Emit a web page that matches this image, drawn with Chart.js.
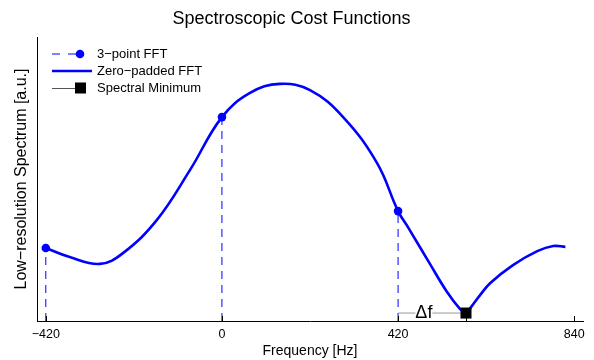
<!DOCTYPE html>
<html><head><meta charset="utf-8">
<script src="https://cdn.jsdelivr.net/npm/chart.js@4/dist/chart.umd.min.js"></script>
<style>html,body{margin:0;padding:0;background:#fff}#wrap{width:594px;height:360px}</style>
</head><body><div id="wrap"><canvas id="c" width="594" height="360"></canvas></div>
<script>
// ---- data ----
const fftFreq = [-420, 0, 420];
const fftValues = [0.257, 0.718, 0.387];
const zpFreq = [-420, -363, -291, -236, -155, -76, 0, 67, 138, 210, 289, 370, 420, 445, 496, 536, 568, 582, 594, 616, 640, 694, 752, 790, 819];
const zpValues = [0.257, 0.225, 0.201, 0.239, 0.356, 0.532, 0.718, 0.803, 0.835, 0.813, 0.718, 0.556, 0.387, 0.327, 0.201, 0.104, 0.042, 0.028, 0.049, 0.092, 0.134, 0.197, 0.246, 0.264, 0.261];
const minFreq = 582;
const minValue = 0.028;
const xTickValues = [-420, 0, 420, 582, 840];
const xTickLabels = ['\u2212420', '0', '420', '', '840'];
const legendLabels = ['3\u2212point FFT', 'Zero\u2212padded FFT', 'Spectral Minimum'];

const FONT = "'Liberation Sans', Arial, Helvetica, sans-serif";
const BLUE = '#0000ff';

const zpPoints = zpFreq.map((f, i) => ({x: f, y: zpValues[i]}));
const iMin = zpFreq.indexOf(minFreq);

const stems = fftFreq.map((f, i) => ({
  data: [{x: f, y: 0}, {x: f, y: fftValues[i]}],
  borderColor: BLUE, borderWidth: 1, borderDash: [8, 6], pointRadius: 0, fill: false
}));

const curveStyle = {borderColor: BLUE, borderWidth: 2.6, pointRadius: 0, tension: 0.4, fill: false};

const datasets = [
  {label: 'min', data: [{x: minFreq, y: minValue}], showLine: false, pointStyle: 'rect', pointRadius: 7.8,
   pointBackgroundColor: '#000', pointBorderColor: '#000', pointBorderWidth: 0},
  {label: 'fft', data: fftFreq.map((f, i) => ({x: f, y: fftValues[i]})), showLine: false,
   pointRadius: 4.3, pointBackgroundColor: BLUE, pointBorderColor: BLUE, pointBorderWidth: 0},
  {label: 'zpL', data: zpPoints.slice(0, iMin + 1), ...curveStyle},
  {label: 'zpR', data: zpPoints.slice(iMin), ...curveStyle},
  {label: 'df', data: [{x: fftFreq[2], y: minValue}, {x: minFreq, y: minValue}], borderColor: '#999', borderWidth: 1, pointRadius: 0},
  ...stems
];

const overlay = {
  id: 'overlay',
  afterDatasetsDraw(chart) {
    const ctx = chart.ctx, xs = chart.scales.x, ys = chart.scales.y;
    ctx.save();
    // inward x ticks
    ctx.strokeStyle = '#000'; ctx.lineWidth = 1;
    xTickValues.forEach(v => {
      const px = Math.round(xs.getPixelForValue(v)) + 0.5;
      ctx.beginPath(); ctx.moveTo(px, ys.bottom); ctx.lineTo(px, ys.bottom - 5); ctx.stroke();
    });
    // delta f label
    const x0 = xs.getPixelForValue(fftFreq[2]), x1 = xs.getPixelForValue(minFreq);
    const tx = x0 + (x1 - x0) * 0.38, ty = ys.getPixelForValue(minValue);
    ctx.font = '18px ' + FONT;
    const w = ctx.measureText('\u0394f').width;
    ctx.fillStyle = '#fff';
    ctx.fillRect(tx - w / 2, ty - 3, w, 6);
    ctx.fillStyle = '#000'; ctx.textAlign = 'center'; ctx.textBaseline = 'middle';
    ctx.fillText('\u0394f', tx, ty);
    // legend
    const lx = xs.left + 15, rowY = [54, 71, 88];
    ctx.font = '13px ' + FONT; ctx.textAlign = 'left';
    ctx.strokeStyle = BLUE; ctx.lineWidth = 1; ctx.setLineDash([8, 8]);
    ctx.beginPath(); ctx.moveTo(lx, rowY[0]); ctx.lineTo(lx + 28, rowY[0]); ctx.stroke();
    ctx.setLineDash([]);
    ctx.fillStyle = BLUE; ctx.beginPath(); ctx.arc(lx + 28, rowY[0], 4.3, 0, Math.PI * 2); ctx.fill();
    ctx.lineWidth = 2.6; ctx.beginPath(); ctx.moveTo(lx, rowY[1]); ctx.lineTo(lx + 40, rowY[1]); ctx.stroke();
    ctx.strokeStyle = '#555'; ctx.lineWidth = 1;
    ctx.beginPath(); ctx.moveTo(lx, rowY[2] + 0.5); ctx.lineTo(lx + 24, rowY[2] + 0.5); ctx.stroke();
    ctx.fillStyle = '#000'; ctx.fillRect(lx + 23, rowY[2] - 5.5, 11, 11);
    legendLabels.forEach((t, i) => ctx.fillText(t, lx + 45, rowY[i]));
    ctx.restore();
  }
};

new Chart(document.getElementById('c'), {
  type: 'line',
  data: {datasets},
  options: {
    responsive: false, animation: false, devicePixelRatio: 1,
    layout: {padding: {left: 0, right: 11, top: 0, bottom: 0}},
    plugins: {
      legend: {display: false}, tooltip: {enabled: false},
      title: {display: true, text: 'Spectroscopic Cost Functions', color: '#000',
        font: {family: FONT, size: 18, weight: 'normal', lineHeight: 1.2}, padding: {top: 8, bottom: 7.4}}
    },
    scales: {
      x: {
        type: 'linear', min: -441, max: 861,
        grid: {display: false, drawTicks: false},
        border: {display: true, color: '#000', width: 1},
        afterBuildTicks: s => { s.ticks = xTickValues.map(v => ({value: v})); },
        ticks: {color: '#000', font: {family: FONT, size: 12.5}, padding: 6, maxRotation: 0, autoSkip: false,
          callback: (v) => { const i = xTickValues.indexOf(v); return i >= 0 ? xTickLabels[i] : ''; }},
        title: {display: true, text: 'Frequency [Hz]', color: '#000', font: {family: FONT, size: 14}, padding: {top: 0, bottom: 0}},
        afterFit: s => { s.height = 39; }
      },
      y: {
        type: 'linear', min: 0, max: 1,
        grid: {display: false, drawTicks: false},
        border: {display: true, color: '#000', width: 1},
        ticks: {display: false},
        title: {display: true, text: 'Low\u2212resolution Spectrum [a.u.]', color: '#000', font: {family: FONT, size: 16}, padding: {top: 12, bottom: 0}},
        afterFit: s => { s.width = 37; }
      }
    }
  },
  plugins: [overlay]
});
</script></body></html>
